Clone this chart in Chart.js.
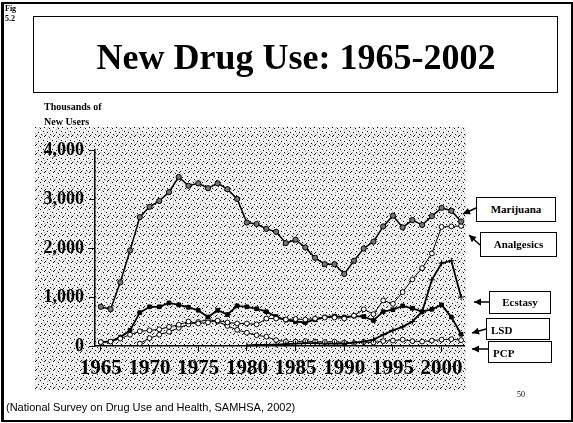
<!DOCTYPE html>
<html>
<head>
<meta charset="utf-8">
<script src="https://cdn.jsdelivr.net/npm/chart.js@4.4.1/dist/chart.umd.min.js"></script>
<style>
  html, body { margin: 0; padding: 0; background: #fff; }
  #page { position: relative; width: 573px; height: 423px; overflow: hidden; background: #fff; }
  #frame { position: absolute; left: 1px; top: 2px; width: 567px; height: 416px; border: 2px solid #000; border-left-width: 3px; box-sizing: content-box; }
  canvas#c { position: absolute; left: 0; top: 0; }
  .txt { position: absolute; color: #000; white-space: nowrap; }
  #fig { left: 5px; top: 4px; font: bold 8px "Liberation Serif", serif; line-height: 10px; }
  #titlebox { position: absolute; left: 33px; top: 16px; width: 523px; height: 75px; border: 1.5px solid #000; }
  #title { left: 33px; top: 18px; width: 526px; height: 78px; font: bold 36px "Liberation Serif", serif; line-height: 78px; text-align: center; }
  #ylab { left: 44px; top: 99px; font: bold 10px "Liberation Serif", serif; line-height: 15px; }
  .lg { position: absolute; border: 1px solid #000; background: #fff; font: bold 11px "Liberation Serif", serif; text-align: center; color: #000; }
  #foot { left: 6px; top: 401px; font: 11px "Liberation Sans", Arial, sans-serif; }
  #pg { left: 517px; top: 390px; font: 8px "Liberation Serif", serif; }
</style>
</head>
<body>
<div id="page">
  <canvas id="c" width="573" height="423"></canvas>
  <div id="frame"></div>
  <div class="txt" id="fig">Fig<br>5.2</div>
  <div id="titlebox"></div>
  <div class="txt" id="title">New Drug Use: 1965-2002</div>
  <div class="txt" id="ylab">Thousands of<br>New Users</div>
  <div class="lg" style="left:476px;top:197px;width:78px;height:23px;line-height:23px;">Marijuana</div>
  <div class="lg" style="left:480px;top:232px;width:75px;height:23px;line-height:23px;">Analgesics</div>
  <div class="lg" style="left:489px;top:291px;width:60px;height:21px;line-height:21px;">Ecstasy</div>
  <div class="lg" style="left:486px;top:318px;width:64px;height:22px;line-height:22px;text-align:left;padding-left:4px;box-sizing:border-box;">LSD</div>
  <div class="lg" style="left:488px;top:341px;width:64px;height:22px;line-height:22px;text-align:left;padding-left:4px;box-sizing:border-box;">PCP</div>
  <div class="txt" id="foot">(National Survey on Drug Use and Health, SAMHSA, 2002)</div>
  <div class="txt" id="pg">50</div>
</div>
<script>
// ---- data (thousands of new users) ----
const years = [1965,1966,1967,1968,1969,1970,1971,1972,1973,1974,1975,1976,1977,1978,1979,
  1980,1981,1982,1983,1984,1985,1986,1987,1988,1989,1990,1991,1992,1993,1994,1995,1996,1997,1998,1999,2000,2001,2002];
const marijuana = [800,750,1300,1950,2630,2840,2960,3140,3450,3270,3320,3220,3320,3200,3000,
  2520,2490,2390,2330,2100,2170,2010,1800,1670,1670,1470,1740,1990,2130,2440,2660,2420,2570,2470,2650,2820,2760,2540];
const analgesics = [80,90,150,230,300,320,340,390,435,500,460,480,520,480,460,
  460,440,560,560,540,550,540,560,580,580,560,620,750,650,930,860,1100,1360,1590,1890,2430,2440,2450];
const lsd = [80,95,180,320,680,800,800,880,840,790,730,590,730,640,820,
  800,760,700,600,530,500,480,540,590,610,590,610,600,520,700,740,820,770,700,750,840,590,240];
const pcp = [null,null,null,null,50,160,230,290,370,440,490,540,500,410,330,
  270,220,190,120,90,90,100,90,80,90,70,60,80,70,100,110,130,100,90,110,130,140,120];
const ecstasy = [null,null,null,null,null,null,null,null,null,null,null,null,null,null,null,
  10,20,20,30,40,50,60,60,50,50,50,70,90,130,230,320,390,500,700,1350,1690,1740,1000];
const xTicks = [1965,1970,1975,1980,1985,1990,1995,2000];
const yTicks = [0,1000,2000,3000,4000];

const pts = arr => years.map((yr,i) => ({x: yr, y: arr[i]})).filter(p => p.y !== null);

// stipple pattern (fixed layout)
function makePattern(ctx) {
  const t = document.createElement('canvas');
  t.width = 9; t.height = 9;
  const g = t.getContext('2d');
  g.fillStyle = '#f2f2f2'; g.fillRect(0,0,9,9);
  g.fillStyle = '#000';
  [[0,0],[4,2],[7,5],[2,6],[5,8],[8,1]].forEach(([a,b]) => g.fillRect(a,b,1,1));
  g.fillStyle = '#a8a8a8';
  [[2,3],[6,0],[5,4],[1,8],[8,7],[3,1]].forEach(([a,b]) => g.fillRect(a,b,1,1));
  return ctx.createPattern(t, 'repeat');
}

const bgPlugin = {
  id: 'bg',
  beforeDraw(chart) {
    const ctx = chart.ctx;
    ctx.save();
    ctx.fillStyle = makePattern(ctx);
    ctx.fillRect(35, 127, 431, 263);
    ctx.restore();
  }
};

function arrow(ctx, x1, y1, x2, y2) {
  ctx.beginPath(); ctx.moveTo(x1, y1); ctx.lineTo(x2, y2); ctx.stroke();
  const a = Math.atan2(y2 - y1, x2 - x1), L = 7, W = 3.5;
  ctx.beginPath();
  ctx.moveTo(x2, y2);
  ctx.lineTo(x2 - L*Math.cos(a) + W*Math.sin(a), y2 - L*Math.sin(a) - W*Math.cos(a));
  ctx.lineTo(x2 - L*Math.cos(a) - W*Math.sin(a), y2 - L*Math.sin(a) + W*Math.cos(a));
  ctx.closePath(); ctx.fill();
}

const arrowPlugin = {
  id: 'arrows',
  afterDraw(chart) {
    const ctx = chart.ctx;
    ctx.save();
    ctx.strokeStyle = '#000'; ctx.fillStyle = '#000'; ctx.lineWidth = 1.5;
    arrow(ctx, 476, 208, 463, 214);
    arrow(ctx, 480, 245, 469, 235);
    arrow(ctx, 489, 302, 474, 302);
    arrow(ctx, 486, 329, 472, 333);
    arrow(ctx, 488, 349, 472, 349);
    ctx.restore();
  }
};

const serif = '"Liberation Serif", "Times New Roman", serif';

new Chart(document.getElementById('c'), {
  type: 'line',
  data: {
    datasets: [
      { label: 'Marijuana', data: pts(marijuana), borderColor: '#000', borderWidth: 1.5,
        pointStyle: 'circle', pointRadius: 2.6, pointBackgroundColor: '#777', pointBorderColor: '#000', pointBorderWidth: 1 },
      { label: 'Analgesics', data: pts(analgesics), borderColor: '#000', borderWidth: 1,
        pointStyle: 'circle', pointRadius: 2.4, pointBackgroundColor: '#fff', pointBorderColor: '#000', pointBorderWidth: 1 },
      { label: 'Ecstasy', data: pts(ecstasy), borderColor: '#000', borderWidth: 1.8,
        pointStyle: 'cross', pointRadius: 3, pointBorderColor: '#000', pointBorderWidth: 1 },
      { label: 'LSD', data: pts(lsd), borderColor: '#000', borderWidth: 1.8,
        pointStyle: 'rect', pointRadius: 2.6, pointBackgroundColor: '#000', pointBorderColor: '#000', pointBorderWidth: 1 },
      { label: 'PCP', data: pts(pcp), borderColor: '#000', borderWidth: 1,
        pointStyle: 'circle', pointRadius: 2.4, pointBackgroundColor: '#fff', pointBorderColor: '#000', pointBorderWidth: 1 }
    ]
  },
  options: {
    responsive: false,
    animation: false,
    clip: false,
    layout: { padding: { left: 0, top: 150, right: 109, bottom: 37 } },
    plugins: { legend: { display: false }, tooltip: { enabled: false } },
    elements: { line: { tension: 0 } },
    scales: {
      x: {
        type: 'linear', min: 1964.4, max: 2002.3,
        afterBuildTicks: s => { s.ticks = xTicks.map(v => ({ value: v })); },
        afterFit: s => { s.height = 40; },
        border: { display: true, color: '#000', width: 1.5 },
        grid: { drawOnChartArea: false, color: '#000', tickLength: 5, lineWidth: 1 },
        ticks: { color: '#000', padding: 5, maxRotation: 0, autoSkip: false,
          font: { family: serif, size: 21, weight: 'bold' }, callback: v => String(v) }
      },
      y: {
        min: 0, max: 4000,
        afterBuildTicks: s => { s.ticks = yTicks.map(v => ({ value: v })); },
        afterFit: s => { s.width = 95; },
        border: { display: true, color: '#000', width: 1.5 },
        grid: { drawOnChartArea: false, color: '#000', tickLength: 6, lineWidth: 1 },
        ticks: { color: '#000', padding: 5,
          font: { family: serif, size: 18, weight: 'bold' },
          callback: v => v.toLocaleString('en-US') }
      }
    }
  },
  plugins: [bgPlugin, arrowPlugin]
});
</script>
</body>
</html>
